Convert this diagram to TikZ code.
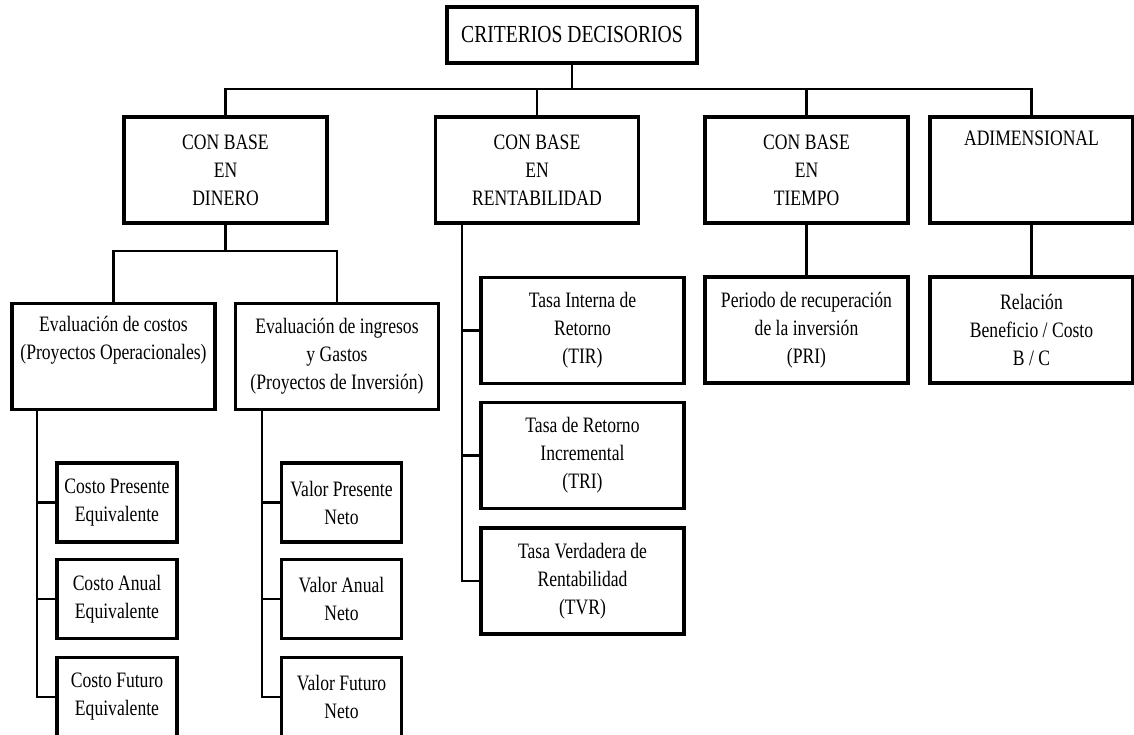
\documentclass[tikz,border=0pt]{standalone}
\usepackage{fontspec}
\setmainfont{Liberation Serif}[FakeStretch=0.8]
\usepackage{tikz}
\usetikzlibrary{calc}
\tikzset{
    box/.style={
        rectangle,
        draw=black,
        fill=white,
        line width=3.6pt,
        minimum width=203pt,
        minimum height=106pt,
        inner sep=0pt,
        align=center,
        font=\fontsize{22}{28}\selectfont
    },
    leaf/.style={
        box,
        minimum width=120pt,
        minimum height=79pt
    },
    rootbox/.style={
        box,
        minimum width=250pt,
        minimum height=56pt,
        font=\fontsize{24.5}{30}\selectfont
    },
    link/.style={
        draw=black,
        line width=2.7pt
    }
}

\begin{document}
\begin{tikzpicture}[x=1pt,y=-1pt]
    \useasboundingbox[fill=white] (0,0) rectangle (1134,735);

    % Root
    \node[rootbox] (root) at (572,35) {CRITERIOS DECISORIOS};
    \coordinate (bus) at (572,89);
    \draw[link] (root.south) -- (bus);

    % Second level
    \node[box] (dinero) at (225.5,170) {CON BASE\\EN\\DINERO};
    \node[box] (rent)   at (537,170)   {CON BASE\\EN\\RENTABILIDAD};
    \node[box] (tiempo) at (806.5,170) {CON BASE\\EN\\TIEMPO};
    \node[box] (adim)   at (1031.5,170) {ADIMENSIONAL\\ \strut\\ \strut};
    \foreach \n in {dinero,rent,tiempo,adim}
        \draw[link] (\n.north) |- (bus);

    % Money based
    \node[box] (costos)   at (113.5,356.5) {Evaluación de costos\\(Proyectos Operacionales)\\ \strut};
    \node[box] (ingresos) at (337,356.5)   {Evaluación de ingresos\\y Gastos\\(Proyectos de Inversión)};
    \coordinate (dbus) at (225.5,251);
    \draw[link] (dinero.south) -- (dbus);
    \draw[link] (costos.north) |- (dbus);
    \draw[link] (ingresos.north) |- (dbus);

    \coordinate (cspine) at (37,410);
    \coordinate (ispine) at (262,410);
    \foreach \y/\name/\txt in {
        502.5/cpe/{Costo Presente\\Equivalente},
        599/cae/{Costo Anual\\Equivalente},
        697/cfe/{Costo Futuro\\Equivalente}%
    } {
        \node[leaf] (\name) at (117,\y) {\txt};
        \draw[link] (\name.west) -| (cspine);
    }
    \foreach \y/\name/\txt in {
        502.5/vpn/{Valor Presente\\Neto},
        599/van/{Valor Anual\\Neto},
        697/vfn/{Valor Futuro\\Neto}%
    } {
        \node[leaf] (\name) at (341.5,\y) {\txt};
        \draw[link] (\name.west) -| (ispine);
    }

    % Return based
    \coordinate (rspine) at (462,223);
    \foreach \y/\name/\txt in {
        330.5/tir/{Tasa Interna de\\Retorno\\(TIR)},
        455.5/tri/{Tasa de Retorno\\Incremental\\(TRI)},
        581/tvr/{Tasa Verdadera de\\Rentabilidad\\(TVR)}%
    } {
        \node[box] (\name) at (582.5,\y) {\txt};
        \draw[link] (\name.west) -| (rspine);
    }

    % Time based and dimensionless
    \node[box] (pri) at (806.5,330)  {Periodo de recuperación\\de la inversión\\(PRI)};
    \node[box] (bc)  at (1031.5,330) {Relación\\Beneficio / Costo\\B / C};
    \draw[link] (tiempo.south) -- (pri.north);
    \draw[link] (adim.south) -- (bc.north);
\end{tikzpicture}
\end{document}
